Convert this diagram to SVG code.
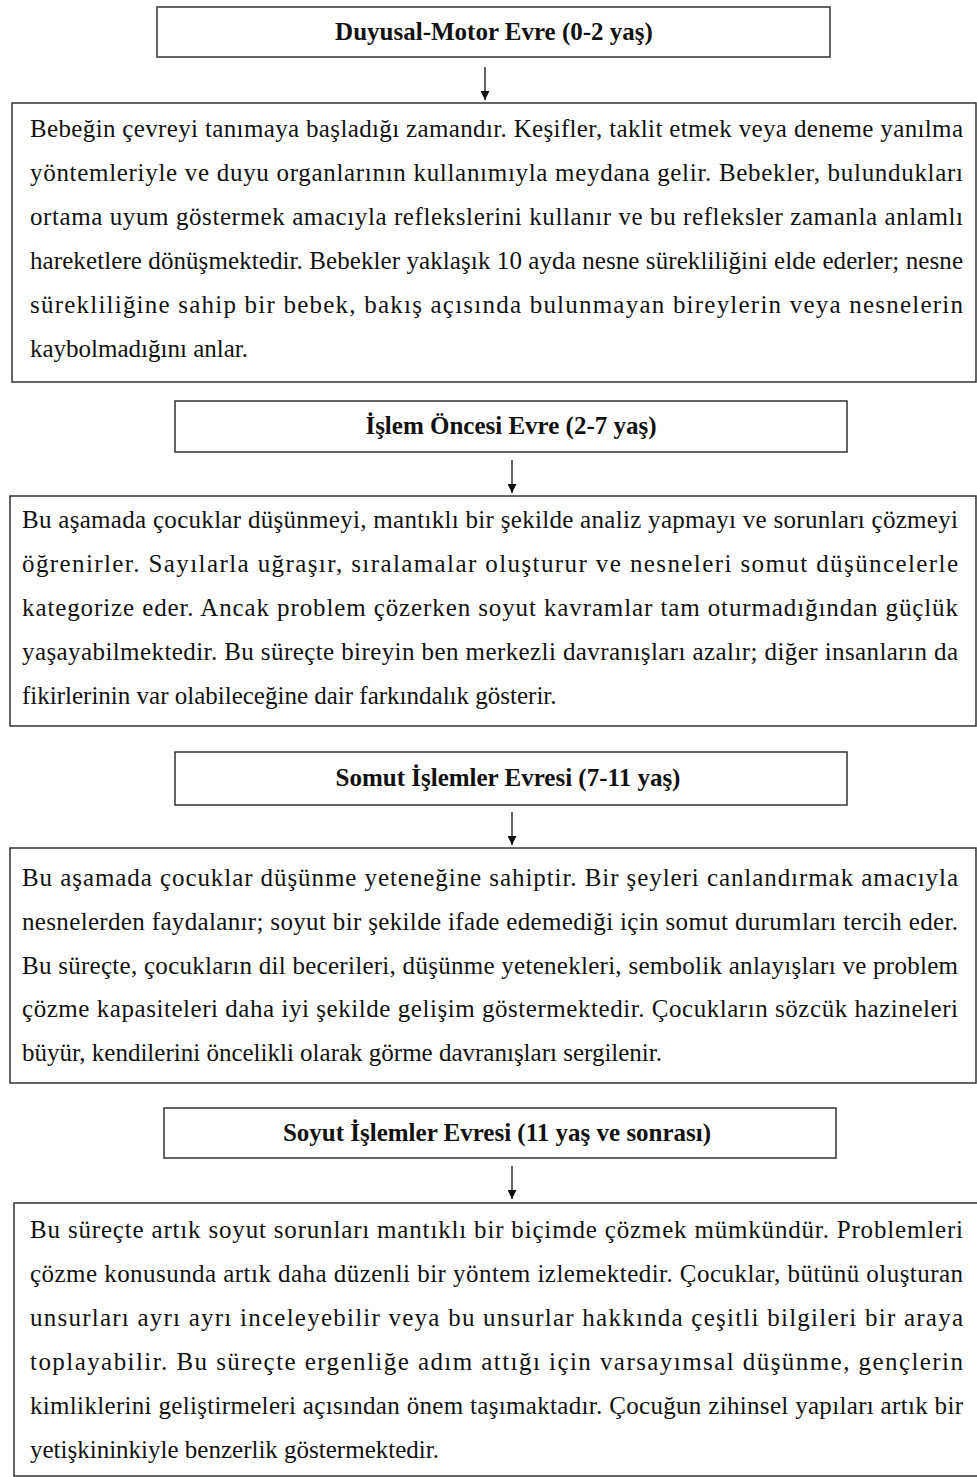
<svg xmlns="http://www.w3.org/2000/svg" width="977" height="1477" viewBox="0 0 977 1477">
<style>
.box{fill:#fff;stroke:#333;stroke-width:1.5}
.title{font-family:"Liberation Serif","Times New Roman",serif;font-size:25px;font-weight:bold;fill:#111;text-anchor:middle}
.body{font-family:"Liberation Serif","Times New Roman",serif;font-size:25px;fill:#111}
.conn{stroke:#111;stroke-width:1.3;fill:none}
</style>
<defs>
<marker id="ah" viewBox="0 0 10 10" refX="10" refY="5" markerWidth="9" markerHeight="9" markerUnits="userSpaceOnUse" orient="auto">
<path d="M0,0 L10,5 L0,10 z" fill="#111"/>
</marker>
</defs>
<rect width="977" height="1477" fill="#fff"/>

<g id="connectors">
<line class="conn" x1="485" y1="67" x2="485" y2="100" marker-end="url(#ah)"/>
<line class="conn" x1="512" y1="460" x2="512" y2="493" marker-end="url(#ah)"/>
<line class="conn" x1="512" y1="812" x2="512" y2="845" marker-end="url(#ah)"/>
<line class="conn" x1="512" y1="1166" x2="512" y2="1199" marker-end="url(#ah)"/>
</g>

<g id="stage1-title">
<rect class="box" x="157" y="7" width="673" height="50"/>
<text class="title" x="494" y="40">Duyusal-Motor Evre (0-2 yaş)</text>
</g>

<g id="stage1-desc">
<rect class="box" x="12" y="103" width="964" height="279"/>
<g class="body">
<text x="30" y="137" textLength="933" lengthAdjust="spacing">Bebeğin çevreyi tanımaya başladığı zamandır. Keşifler, taklit etmek veya deneme yanılma</text>
<text x="30" y="181" textLength="933" lengthAdjust="spacing">yöntemleriyle ve duyu organlarının kullanımıyla meydana gelir. Bebekler, bulundukları</text>
<text x="30" y="225" textLength="933" lengthAdjust="spacing">ortama uyum göstermek amacıyla reflekslerini kullanır ve bu refleksler zamanla anlamlı</text>
<text x="30" y="269" textLength="933" lengthAdjust="spacing">hareketlere dönüşmektedir. Bebekler yaklaşık 10 ayda nesne sürekliliğini elde ederler; nesne</text>
<text x="30" y="313" textLength="933" lengthAdjust="spacing">sürekliliğine sahip bir bebek, bakış açısında bulunmayan bireylerin veya nesnelerin</text>
<text x="30" y="357">kaybolmadığını anlar.</text>
</g>
</g>

<g id="stage2-title">
<rect class="box" x="175" y="401" width="672" height="51"/>
<text class="title" x="511" y="434">İşlem Öncesi Evre (2-7 yaş)</text>
</g>

<g id="stage2-desc">
<rect class="box" x="10" y="496" width="966" height="230"/>
<g class="body">
<text x="22" y="528" textLength="936" lengthAdjust="spacing">Bu aşamada çocuklar düşünmeyi, mantıklı bir şekilde analiz yapmayı ve sorunları çözmeyi</text>
<text x="22" y="572" textLength="936" lengthAdjust="spacing">öğrenirler. Sayılarla uğraşır, sıralamalar oluşturur ve nesneleri somut düşüncelerle</text>
<text x="22" y="616" textLength="936" lengthAdjust="spacing">kategorize eder. Ancak problem çözerken soyut kavramlar tam oturmadığından güçlük</text>
<text x="22" y="660" textLength="936" lengthAdjust="spacing">yaşayabilmektedir. Bu süreçte bireyin ben merkezli davranışları azalır; diğer insanların da</text>
<text x="22" y="704">fikirlerinin var olabileceğine dair farkındalık gösterir.</text>
</g>
</g>

<g id="stage3-title">
<rect class="box" x="175" y="752" width="672" height="53"/>
<text class="title" x="508" y="786">Somut İşlemler Evresi (7-11 yaş)</text>
</g>

<g id="stage3-desc">
<rect class="box" x="10" y="848" width="966" height="235"/>
<g class="body">
<text x="22" y="886" textLength="936" lengthAdjust="spacing">Bu aşamada çocuklar düşünme yeteneğine sahiptir. Bir şeyleri canlandırmak amacıyla</text>
<text x="22" y="930" textLength="936" lengthAdjust="spacing">nesnelerden faydalanır; soyut bir şekilde ifade edemediği için somut durumları tercih eder.</text>
<text x="22" y="974" textLength="936" lengthAdjust="spacing">Bu süreçte, çocukların dil becerileri, düşünme yetenekleri, sembolik anlayışları ve problem</text>
<text x="22" y="1017" textLength="936" lengthAdjust="spacing">çözme kapasiteleri daha iyi şekilde gelişim göstermektedir. Çocukların sözcük hazineleri</text>
<text x="22" y="1061">büyür, kendilerini öncelikli olarak görme davranışları sergilenir.</text>
</g>
</g>

<g id="stage4-title">
<rect class="box" x="164" y="1108" width="672" height="50"/>
<text class="title" x="497" y="1141">Soyut İşlemler Evresi (11 yaş ve sonrası)</text>
</g>

<g id="stage4-desc">
<rect class="box" x="14" y="1203" width="964" height="273"/>
<g class="body">
<text x="30" y="1238" textLength="933" lengthAdjust="spacing">Bu süreçte artık soyut sorunları mantıklı bir biçimde çözmek mümkündür. Problemleri</text>
<text x="30" y="1282" textLength="933" lengthAdjust="spacing">çözme konusunda artık daha düzenli bir yöntem izlemektedir. Çocuklar, bütünü oluşturan</text>
<text x="30" y="1326" textLength="933" lengthAdjust="spacing">unsurları ayrı ayrı inceleyebilir veya bu unsurlar hakkında çeşitli bilgileri bir araya</text>
<text x="30" y="1370" textLength="933" lengthAdjust="spacing">toplayabilir. Bu süreçte ergenliğe adım attığı için varsayımsal düşünme, gençlerin</text>
<text x="30" y="1414" textLength="933" lengthAdjust="spacing">kimliklerini geliştirmeleri açısından önem taşımaktadır. Çocuğun zihinsel yapıları artık bir</text>
<text x="30" y="1458">yetişkininkiyle benzerlik göstermektedir.</text>
</g>
</g>
</svg>
